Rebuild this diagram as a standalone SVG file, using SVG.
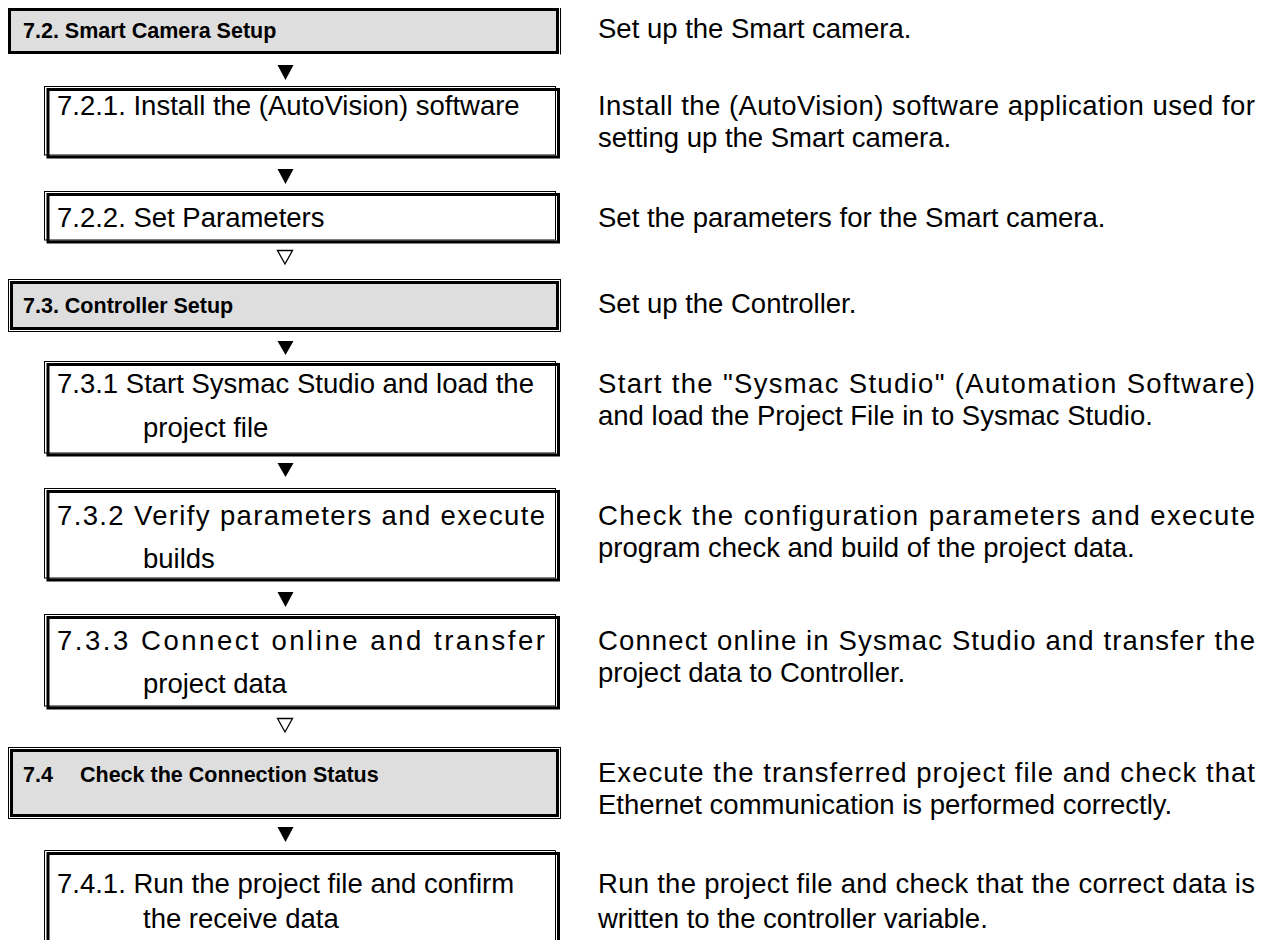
<svg xmlns="http://www.w3.org/2000/svg" width="1271" height="940" viewBox="0 0 1271 940">
<style>
text{font-family:"Liberation Sans",Arial,sans-serif;fill:#000}
.b{font-weight:bold;font-size:21.5px}
.r{font-size:27.5px}
.hf{fill:#dedede;stroke:none}
.tk{fill:none;stroke:#000;stroke-width:3}
.tn{fill:none;stroke:#000;stroke-width:1}
.ar{fill:#000}
.ao{fill:#fff;stroke:#000;stroke-width:1.3}
</style>
<rect width="1271" height="940" fill="#fff"/>
<g id="connectors">
<polygon class="ar" points="277.5,65 293.5,65 285.5,80"/>
<polygon class="ar" points="277.5,169 293.5,169 285.5,184"/>
<polygon class="ao" points="277.5,250.5 292.5,250.5 285,264"/>
<polygon class="ar" points="277.5,341 293.5,341 285.5,355"/>
<polygon class="ar" points="277.5,463 293.5,463 285.5,477"/>
<polygon class="ar" points="277.5,592 293.5,592 285.5,607"/>
<polygon class="ao" points="277.5,718.5 292.5,718.5 285,732"/>
<polygon class="ar" points="277.5,827 293.5,827 285.5,842"/>
</g>
<g id="n72">
<rect class="hf" x="10" y="10" width="547" height="43"/>
<rect class="tk" x="9.5" y="9.5" width="548" height="43"/>
<line class="tn" x1="560.5" y1="8" x2="560.5" y2="54.5"/>
<text class="b" x="23" y="38">7.2. Smart Camera Setup</text>
</g>
<g id="n721">
<rect class="tn" x="44.5" y="86.5" width="511" height="68.5"/>
<rect class="tk" x="48" y="89.5" width="510.5" height="67.5"/>
<text class="r" x="57" y="115">7.2.1. Install the (AutoVision) software</text>
</g>
<g id="n722">
<rect class="tn" x="44.5" y="191.5" width="511" height="48.5"/>
<rect class="tk" x="48" y="194.5" width="510.5" height="47.5"/>
<text class="r" x="57" y="227">7.2.2. Set Parameters</text>
</g>
<g id="n73">
<rect class="hf" x="11" y="282" width="546" height="47"/>
<rect class="tn" x="8.5" y="279.5" width="552" height="52"/>
<rect class="tk" x="11.5" y="282.5" width="546" height="46"/>
<text class="b" x="23" y="313">7.3. Controller Setup</text>
</g>
<g id="n731">
<rect class="tn" x="44.5" y="361.5" width="511" height="91.5"/>
<rect class="tk" x="48" y="364.5" width="510.5" height="90.5"/>
<text class="r" x="57" y="393">7.3.1 Start Sysmac Studio and load the</text>
<text class="r" x="143" y="437">project file</text>
</g>
<g id="n732">
<rect class="tn" x="44.5" y="488.5" width="511" height="89.5"/>
<rect class="tk" x="48" y="491.5" width="510.5" height="88.5"/>
<text class="r" x="57" y="525" textLength="488" lengthAdjust="spacing">7.3.2 Verify parameters and execute</text>
<text class="r" x="143" y="568">builds</text>
</g>
<g id="n733">
<rect class="tn" x="44.5" y="614.5" width="511" height="91.5"/>
<rect class="tk" x="48" y="617.5" width="510.5" height="90.5"/>
<text class="r" x="57" y="650" textLength="488" lengthAdjust="spacing">7.3.3 Connect online and transfer</text>
<text class="r" x="143" y="693">project data</text>
</g>
<g id="n74">
<rect class="hf" x="11" y="750" width="546" height="66"/>
<rect class="tn" x="8.5" y="747.5" width="552" height="71"/>
<rect class="tk" x="11.5" y="750.5" width="546" height="65"/>
<text class="b" x="23" y="782">7.4<tspan x="80">Check the Connection Status</tspan></text>
</g>
<g id="n741">
<path class="tn" d="M44.5,945 V850.5 H555.5 V945"/>
<path class="tk" d="M48,945 V853.5 H558.5 V945"/>
<text class="r" x="57" y="893">7.4.1. Run the project file and confirm</text>
<text class="r" x="143" y="928">the receive data</text>
</g>
<g id="descriptions">
<text class="r" x="598" y="38">Set up the Smart camera.</text>
<text class="r" x="598" y="115" textLength="657" lengthAdjust="spacing">Install the (AutoVision) software application used for</text>
<text class="r" x="598" y="147">setting up the Smart camera.</text>
<text class="r" x="598" y="227">Set the parameters for the Smart camera.</text>
<text class="r" x="598" y="313">Set up the Controller.</text>
<text class="r" x="598" y="393" textLength="657" lengthAdjust="spacing">Start the "Sysmac Studio" (Automation Software)</text>
<text class="r" x="598" y="425">and load the Project File in to Sysmac Studio.</text>
<text class="r" x="598" y="525" textLength="657" lengthAdjust="spacing">Check the configuration parameters and execute</text>
<text class="r" x="598" y="557">program check and build of the project data.</text>
<text class="r" x="598" y="650" textLength="657" lengthAdjust="spacing">Connect online in Sysmac Studio and transfer the</text>
<text class="r" x="598" y="682">project data to Controller.</text>
<text class="r" x="598" y="782" textLength="657" lengthAdjust="spacing">Execute the transferred project file and check that</text>
<text class="r" x="598" y="814">Ethernet communication is performed correctly.</text>
<text class="r" x="598" y="893" textLength="657" lengthAdjust="spacing">Run the project file and check that the correct data is</text>
<text class="r" x="598" y="928">written to the controller variable.</text>
</g>
</svg>
